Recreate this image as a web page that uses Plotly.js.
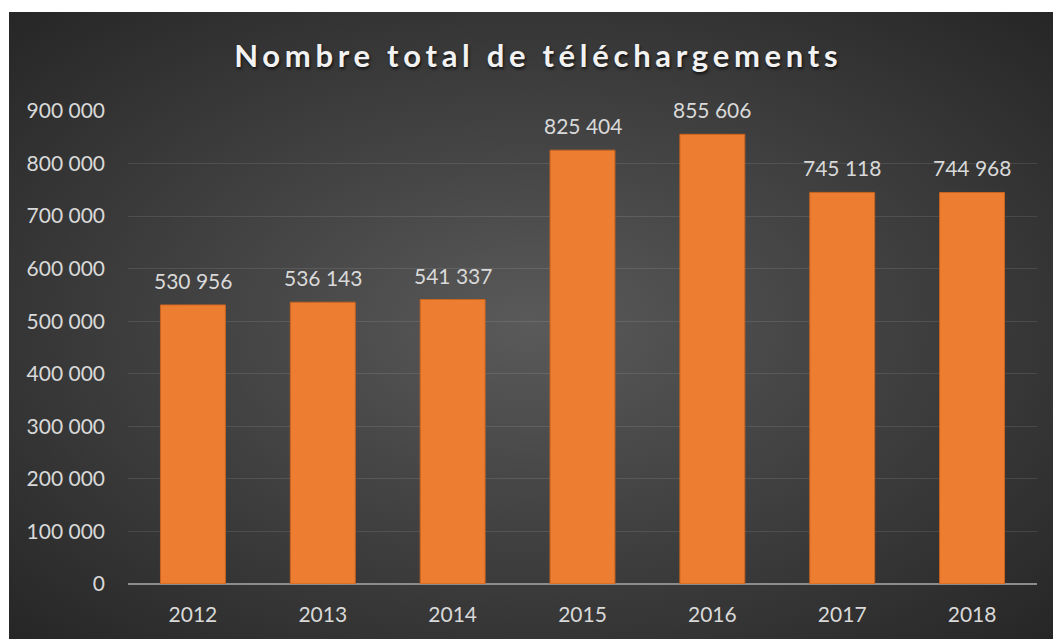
<!DOCTYPE html>
<html>
<head>
<meta charset="utf-8">
<script src="https://cdn.plot.ly/plotly-3.0.1.min.js"></script>
<style>
  html, body { margin: 0; padding: 0; background: #ffffff; width: 1053px; height: 639px; overflow: hidden; }
  #chart {
    position: absolute; left: 9px; top: 12px; width: 1044px; height: 627px;
    background: radial-gradient(ellipse farthest-corner at 50% 50%, #5a5a5a 0%, #474747 35%, #262626 100%);
  }
  #chart .gtitle { letter-spacing: 4.7px; }
</style>
</head>
<body>
<div id="chart"></div>
<script>
const years = ['2012', '2013', '2014', '2015', '2016', '2017', '2018'];
const downloads = [530956, 536143, 541337, 825404, 855606, 745118, 744968];
const yTicks = [0, 100000, 200000, 300000, 400000, 500000, 600000, 700000, 800000, 900000];
const chartTitle = 'Nombre total de téléchargements';

const fontFamily = 'Lato, "Open Sans", sans-serif';

const trace = {
  type: 'bar',
  x: years,
  y: downloads,
  marker: { color: '#ED7D31', line: { color: '#c9641f', width: 1 } },
  hoverinfo: 'skip'
};

const annotations = years.map((yr, i) => ({
  x: i, y: downloads[i], xref: 'x', yref: 'y',
  text: downloads[i].toLocaleString('fr-FR').replace(/\u202f|\u00a0/g, ' '),
  showarrow: false, yanchor: 'bottom', yshift: 10,
  font: { family: fontFamily, size: 21, color: '#d9d9d9' }
}));

const layout = {
  width: 1044, height: 627,
  paper_bgcolor: 'rgba(0,0,0,0)', plot_bgcolor: 'rgba(0,0,0,0)',
  separators: ', ',
  margin: { l: 119, r: 16, t: 99, b: 55 },
  showlegend: false,
  bargap: 0.5,
  title: {
    text: chartTitle,
    xref: 'container', yref: 'container',
    x: 0.507, y: 0.93, xanchor: 'center', yanchor: 'middle',
    font: { family: fontFamily, size: 31, weight: 700, color: '#f2f2f2', shadow: '1px 2px 3px rgba(0,0,0,0.7)' }
  },
  xaxis: {
    type: 'category',
    autorange: false, range: [-0.5, years.length - 0.5],
    showgrid: false, zeroline: false, showline: false, ticks: '',
    ticklabelstandoff: 16,
    tickfont: { family: fontFamily, size: 21, color: '#d9d9d9' }
  },
  yaxis: {
    range: [0, 900000],
    tickvals: yTicks,
    tickformat: ',',
    showgrid: true, gridcolor: 'rgba(255,255,255,0.10)', gridwidth: 1,
    zeroline: true, zerolinecolor: '#8c8c8c', zerolinewidth: 2,
    showline: false, ticks: '',
    ticklabelstandoff: 22,
    tickfont: { family: fontFamily, size: 21, color: '#d9d9d9' }
  },
  annotations: annotations
};

Plotly.newPlot('chart', [trace], layout, { displayModeBar: false, staticPlot: true });
</script>
</body>
</html>
